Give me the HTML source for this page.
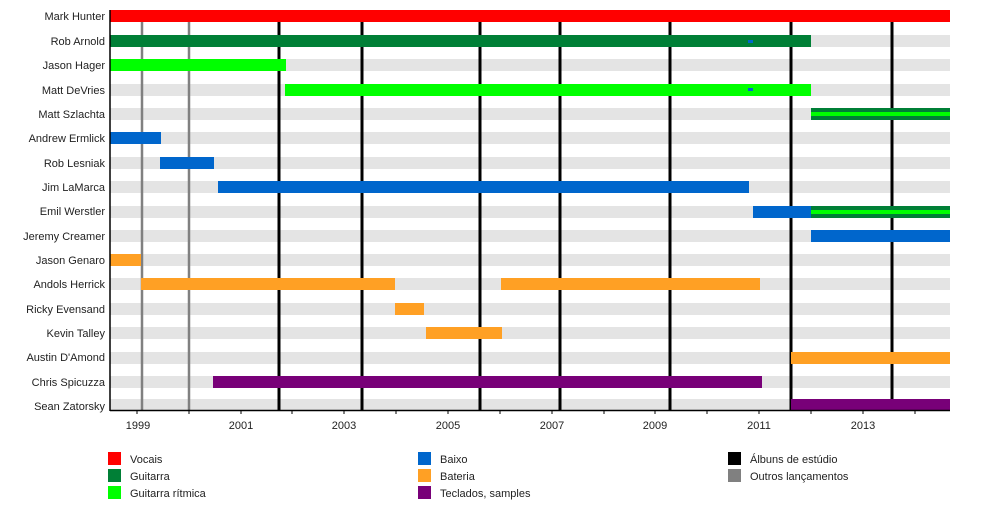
<!DOCTYPE html>
<html><head><meta charset="utf-8"><style>
html,body{margin:0;padding:0;background:#fff;}
svg{display:block;font-family:"Liberation Sans",sans-serif;}
</style></head><body>
<svg width="1000" height="520" viewBox="0 0 1000 520" xmlns="http://www.w3.org/2000/svg">
<g fill="#e4e4e4">
<rect x="110" y="35" width="840" height="12"/>
<rect x="110" y="59" width="840" height="12"/>
<rect x="110" y="84" width="840" height="12"/>
<rect x="110" y="108" width="840" height="12"/>
<rect x="110" y="132" width="840" height="12"/>
<rect x="110" y="157" width="840" height="12"/>
<rect x="110" y="181" width="840" height="12"/>
<rect x="110" y="206" width="840" height="12"/>
<rect x="110" y="230" width="840" height="12"/>
<rect x="110" y="254" width="840" height="12"/>
<rect x="110" y="278" width="840" height="12"/>
<rect x="110" y="303" width="840" height="12"/>
<rect x="110" y="327" width="840" height="12"/>
<rect x="110" y="352" width="840" height="12"/>
<rect x="110" y="376" width="840" height="12"/>
<rect x="110" y="399" width="840" height="11"/>
</g>
<g stroke="#808080" stroke-width="2.5">
<line x1="142" y1="22" x2="142" y2="410"/>
<line x1="189" y1="22" x2="189" y2="410"/>
</g>
<g stroke="#000" stroke-width="3">
<line x1="279" y1="22" x2="279" y2="410"/>
<line x1="362" y1="22" x2="362" y2="410"/>
<line x1="480" y1="22" x2="480" y2="410"/>
<line x1="560" y1="22" x2="560" y2="410"/>
<line x1="670" y1="22" x2="670" y2="410"/>
<line x1="791" y1="22" x2="791" y2="410"/>
<line x1="892" y1="22" x2="892" y2="410"/>
</g>
<rect x="110" y="10" width="840" height="12" fill="#ff0000"/>
<rect x="110" y="35" width="701" height="12" fill="#007f36"/>
<rect x="748" y="40" width="5" height="3" fill="#0066cc"/>
<rect x="110" y="59" width="176" height="12" fill="#00ff00"/>
<rect x="285" y="84" width="526" height="12" fill="#00ff00"/>
<rect x="748" y="88" width="5" height="3" fill="#0066cc"/>
<rect x="811" y="108" width="139" height="12" fill="#007f36"/>
<rect x="811" y="112" width="139" height="4" fill="#00ff00"/>
<rect x="110" y="132" width="51" height="12" fill="#0066cc"/>
<rect x="160" y="157" width="54" height="12" fill="#0066cc"/>
<rect x="218" y="181" width="531" height="12" fill="#0066cc"/>
<rect x="753" y="206" width="58" height="12" fill="#0066cc"/>
<rect x="811" y="206" width="139" height="12" fill="#007f36"/>
<rect x="811" y="210" width="139" height="4" fill="#00ff00"/>
<rect x="811" y="230" width="139" height="12" fill="#0066cc"/>
<g fill="#ffa024">
<rect x="110" y="254" width="31" height="12"/>
<rect x="141" y="278" width="254" height="12"/>
<rect x="501" y="278" width="259" height="12"/>
<rect x="395" y="303" width="29" height="12"/>
<rect x="426" y="327" width="76" height="12"/>
<rect x="791" y="352" width="159" height="12"/>
</g>
<rect x="213" y="376" width="549" height="12" fill="#780078"/>
<rect x="791" y="399" width="159" height="11" fill="#780078"/>
<g stroke="#000" stroke-width="1.5">
<line x1="110" y1="10" x2="110" y2="411"/>
<line x1="110" y1="410.5" x2="950" y2="410.5"/>
</g>
<g stroke="#000" stroke-width="1">
<line x1="137" y1="410" x2="137" y2="414"/><line x1="189" y1="410" x2="189" y2="414"/>
<line x1="241" y1="410" x2="241" y2="414"/><line x1="292" y1="410" x2="292" y2="414"/>
<line x1="344" y1="410" x2="344" y2="414"/><line x1="396" y1="410" x2="396" y2="414"/>
<line x1="448" y1="410" x2="448" y2="414"/><line x1="500" y1="410" x2="500" y2="414"/>
<line x1="552" y1="410" x2="552" y2="414"/><line x1="604" y1="410" x2="604" y2="414"/>
<line x1="655" y1="410" x2="655" y2="414"/><line x1="707" y1="410" x2="707" y2="414"/>
<line x1="759" y1="410" x2="759" y2="414"/><line x1="811" y1="410" x2="811" y2="414"/>
<line x1="863" y1="410" x2="863" y2="414"/><line x1="915" y1="410" x2="915" y2="414"/>
</g>
<g font-size="11" fill="#222" text-anchor="middle">
<text x="138" y="429">1999</text><text x="241" y="429">2001</text>
<text x="344" y="429">2003</text><text x="448" y="429">2005</text>
<text x="552" y="429">2007</text><text x="655" y="429">2009</text>
<text x="759" y="429">2011</text><text x="863" y="429">2013</text>
</g>
<g font-size="11" fill="#222" text-anchor="end">
<text x="105" y="20">Mark Hunter</text>
<text x="105" y="45">Rob Arnold</text>
<text x="105" y="69">Jason Hager</text>
<text x="105" y="94">Matt DeVries</text>
<text x="105" y="118">Matt Szlachta</text>
<text x="105" y="142">Andrew Ermlick</text>
<text x="105" y="167">Rob Lesniak</text>
<text x="105" y="191">Jim LaMarca</text>
<text x="105" y="215">Emil Werstler</text>
<text x="105" y="240">Jeremy Creamer</text>
<text x="105" y="264">Jason Genaro</text>
<text x="105" y="288">Andols Herrick</text>
<text x="105" y="313">Ricky Evensand</text>
<text x="105" y="337">Kevin Talley</text>
<text x="105" y="361">Austin D'Amond</text>
<text x="105" y="386">Chris Spicuzza</text>
<text x="105" y="410">Sean Zatorsky</text>
</g>
<rect x="108" y="452" width="13" height="13" fill="#ff0000"/>
<rect x="108" y="469" width="13" height="13" fill="#007f36"/>
<rect x="108" y="486" width="13" height="13" fill="#00ff00"/>
<rect x="418" y="452" width="13" height="13" fill="#0066cc"/>
<rect x="418" y="469" width="13" height="13" fill="#ffa024"/>
<rect x="418" y="486" width="13" height="13" fill="#780078"/>
<rect x="728" y="452" width="13" height="13" fill="#000"/>
<rect x="728" y="469" width="13" height="13" fill="#808080"/>
<g font-size="11" fill="#222">
<text x="130" y="463">Vocais</text>
<text x="130" y="480">Guitarra</text>
<text x="130" y="497">Guitarra rítmica</text>
<text x="440" y="463">Baixo</text>
<text x="440" y="480">Bateria</text>
<text x="440" y="497">Teclados, samples</text>
<text x="750" y="463">Álbuns de estúdio</text>
<text x="750" y="480">Outros lançamentos</text>
</g>
</svg>
</body></html>
